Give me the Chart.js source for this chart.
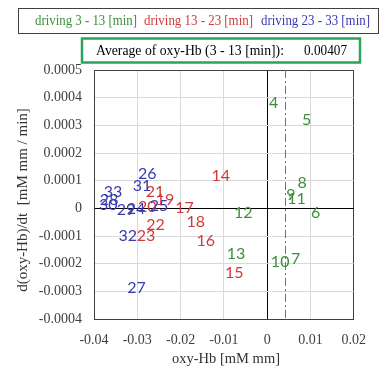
<!DOCTYPE html>
<html>
<head>
<meta charset="utf-8">
<script src="https://cdn.jsdelivr.net/npm/chart.js@4"></script>
<style>
  body { margin: 0; background: #fff; }
  #wrap { width: 379px; height: 367px; }
</style>
</head>
<body>
<div id="wrap"><canvas id="chart" width="379" height="367"></canvas></div>
<script>
// driving 3 - 13 [min]
const greenLabels = ['4', '5', '6', '7', '8', '9', '10', '11', '12', '13'];
const greenX = [0.0015, 0.0091, 0.0112, 0.0066, 0.0081, 0.0055, 0.0030, 0.0068, -0.0055, -0.0072];
const greenY = [0.000382, 0.000321, -0.000015, -0.000182, 0.000092, 0.000050, -0.000192, 0.000034, -0.000015, -0.000164];

// driving 13 - 23 [min]
const redLabels = ['14', '15', '16', '17', '18', '19', '20', '21', '22', '23'];
const redX = [-0.0107, -0.0076, -0.0142, -0.0191, -0.0165, -0.0236, -0.0277, -0.0259, -0.0258, -0.0280];
const redY = [0.000116, -0.000232, -0.000117, 0.000002, -0.000050, 0.000029, 0.000007, 0.000058, -0.000059, -0.000099];

// driving 23 - 33 [min]
const blueLabels = ['24', '25', '26', '27', '28', '29', '30', '31', '32', '33'];
const blueX = [-0.0303, -0.0250, -0.0277, -0.0302, -0.0365, -0.0326, -0.0367, -0.0289, -0.0322, -0.0356];
const blueY = [-0.000001, 0.000010, 0.000126, -0.000286, 0.000029, -0.000007, 0.000013, 0.000082, -0.000099, 0.000059];

const xTicks = [-0.04, -0.03, -0.02, -0.01, 0, 0.01, 0.02];
const yTicks = [-0.0004, -0.0003, -0.0002, -0.0001, 0, 0.0001, 0.0002, 0.0003, 0.0004, 0.0005];

const avgOxy = 0.00407;
const avgText = 'Average of oxy-Hb (3 - 13 [min]):';

const seriesNames = ['driving 3 - 13 [min]', 'driving 13 - 23 [min]', 'driving 23 - 33 [min]'];
const seriesColors = ['#3b8f3b', '#d03a3a', '#3a3ab0'];

const serif = '"Liberation Serif", "DejaVu Serif", serif';
const labelFont = 'Lato, "Open Sans", sans-serif';

function toPoints(xs, ys) {
    return xs.map((x, i) => ({ x: x, y: ys[i] }));
}

const allLabels = [greenLabels, redLabels, blueLabels];

// numbers drawn at each point instead of markers
const pointLabels = {
    id: 'pointLabels',
    afterDatasetsDraw(chart) {
        const ctx = chart.ctx;
        ctx.save();
        ctx.font = '16px ' + labelFont;
        ctx.textAlign = 'center';
        ctx.textBaseline = 'middle';
        chart.data.datasets.forEach((ds, di) => {
            const meta = chart.getDatasetMeta(di);
            ctx.fillStyle = seriesColors[di];
            meta.data.forEach((pt, i) => {
                ctx.fillText(allLabels[di][i], pt.x, pt.y);
            });
        });
        ctx.restore();
    }
};

// average line, legend box, info box, axis titles
const extras = {
    id: 'extras',
    beforeDatasetsDraw(chart) {
        const ctx = chart.ctx;
        const xs = chart.scales.x;
        const area = chart.chartArea;
        const px = xs.getPixelForValue(avgOxy);
        ctx.save();
        ctx.strokeStyle = '#2f9a3f';
        ctx.lineWidth = 1;
        ctx.setLineDash([8, 3, 2, 3]);
        ctx.beginPath();
        ctx.moveTo(Math.round(px) + 0.5, area.top);
        ctx.lineTo(Math.round(px) + 0.5, area.bottom);
        ctx.stroke();
        ctx.restore();
    },
    afterDraw(chart) {
        const ctx = chart.ctx;
        ctx.save();

        // legend (text is a little condensed in the original)
        ctx.strokeStyle = '#404040';
        ctx.lineWidth = 1;
        ctx.strokeRect(18.5, 8.5, 360, 25);
        ctx.font = '15px ' + serif;
        ctx.textBaseline = 'middle';
        ctx.textAlign = 'left';
        const legX = [35, 144, 261];
        const legW = [102, 109, 109];
        seriesNames.forEach((s, i) => {
            ctx.fillStyle = seriesColors[i];
            ctx.fillText(s, legX[i], 21, legW[i]);
        });

        // average box
        ctx.strokeStyle = '#2ea35a';
        ctx.lineWidth = 2.5;
        ctx.strokeRect(82, 38.5, 278, 24);
        ctx.fillStyle = '#000';
        ctx.fillText(avgText, 96, 51, 188);
        ctx.fillText(avgOxy.toFixed(5), 304, 51, 43);

        // axis titles
        ctx.fillStyle = '#333';
        ctx.textAlign = 'center';
        ctx.fillText('oxy-Hb [mM mm]', 226, 359, 108);
        ctx.translate(23, 200);
        ctx.rotate(-Math.PI / 2);
        ctx.fillText('d(oxy-Hb)/dt  [mM mm / min]', 0, 0, 189);
        ctx.restore();
    }
};

function gridColor(c) {
    const v = c.tick ? c.tick.value : null;
    if (v === 0) return '#000';
    if (c.index === 0 || (c.scale && c.index === c.scale.ticks.length - 1)) return '#404040';
    return '#d9d9d9';
}

new Chart(document.getElementById('chart'), {
    type: 'scatter',
    data: {
        datasets: [
            { label: seriesNames[0], data: toPoints(greenX, greenY), pointRadius: 0, pointHoverRadius: 0 },
            { label: seriesNames[1], data: toPoints(redX, redY), pointRadius: 0, pointHoverRadius: 0 },
            { label: seriesNames[2], data: toPoints(blueX, blueY), pointRadius: 0, pointHoverRadius: 0 }
        ]
    },
    options: {
        responsive: false,
        animation: false,
        events: [],
        layout: { padding: { left: 0, top: 70, right: 21, bottom: 0 } },
        plugins: { legend: { display: false }, tooltip: { enabled: false } },
        scales: {
            x: {
                type: 'linear',
                min: -0.04,
                max: 0.02,
                afterBuildTicks: s => { s.ticks = xTicks.map(v => ({ value: v })); },
                afterFit: s => { s.height = 48; },
                grid: { color: gridColor, drawTicks: false, lineWidth: 1 },
                border: { display: true, color: '#404040' },
                ticks: {
                    padding: 13,
                    color: '#404040',
                    font: { family: serif, size: 14 },
                    maxRotation: 0,
                    callback: v => String(Number(v.toFixed(2)))
                }
            },
            y: {
                type: 'linear',
                min: -0.0004,
                max: 0.0005,
                afterBuildTicks: s => { s.ticks = yTicks.map(v => ({ value: v })); },
                afterFit: s => { s.width = 94; },
                grid: { color: gridColor, drawTicks: false, lineWidth: 1 },
                border: { display: true, color: '#404040' },
                ticks: {
                    padding: 12,
                    color: '#404040',
                    font: { family: serif, size: 14 },
                    callback: v => String(Number(v.toFixed(4)))
                }
            }
        }
    },
    plugins: [pointLabels, extras]
});
</script>
</body>
</html>
